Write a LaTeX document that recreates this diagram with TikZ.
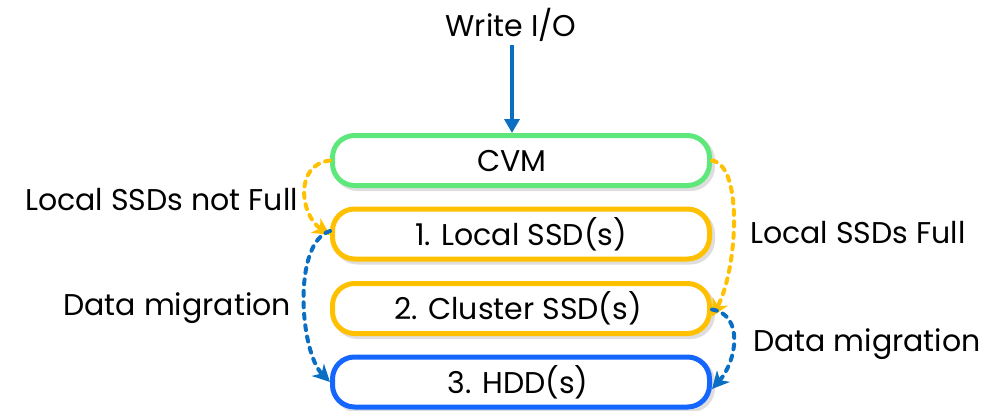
\documentclass[tikz,border=0pt]{standalone}
\usepackage{fontspec}
\setmainfont{Poppins}
\usetikzlibrary{arrows.meta}
\definecolor{cvmgreen}{HTML}{5EE87C}
\definecolor{ssdorange}{HTML}{FFC000}
\definecolor{hddblue}{HTML}{1566FF}
\definecolor{arrblue}{HTML}{0A6FC2}
\tikzset{
  tier/.style={draw=#1, fill=white, line width=5pt, rounded corners=22pt,
    minimum width=377pt, minimum height=50pt, inner sep=0pt,
    font=\fontsize{30}{34}\selectfont,
    preaction={draw=black!13, line width=5pt, transform canvas={shift={(3pt,-3pt)}}}},
  lbl/.style={font=\fontsize{30}{34}\selectfont, inner sep=0pt},
  flow/.style={draw=#1, line width=4pt, dash pattern=on 5pt off 6.5pt, line cap=round,
    -{Stealth[length=17pt,width=17pt,inset=5pt,line cap=butt,fill=#1]}}
}
\begin{document}
\begin{tikzpicture}[x=1pt,y=-1pt]
\useasboundingbox (0,0) rectangle (983,410);
\node[lbl] (write) at (511,25) {Write I/O};
\node[tier=cvmgreen] (cvm) at (521,160.5) {\hspace*{-18pt}CVM};
\node[tier=ssdorange] (local) at (521,234) {1. Local SSD(s)};
\node[tier=ssdorange] (cluster) at (521,308.5) {\hspace*{-6pt}2. Cluster SSD(s)};
\node[tier=hddblue] (hdd) at (521,382) {\hspace*{-6pt}3. HDD(s)};

\node[lbl, anchor=east] (lnf) at (298,200) {Local SSDs not Full};
\node[lbl, anchor=west] (lf) at (750,233) {Local SSDs Full};
\node[lbl, anchor=east] (dml) at (291,308) {Data migration};
\node[lbl, anchor=west] (dmr) at (753,344) {Data migration};

\coordinate (ws) at (512,45);
\draw[arrblue, line width=3.5pt, -{Triangle[length=14pt,width=15pt]}]
  (ws) -- (ws |- cvm.north);

\draw[flow=ssdorange] (cvm.west) .. controls +(-36,4) and +(-30,-20) .. ([yshift=-1pt]local.west);
\draw[flow=arrblue] ([yshift=3pt]local.west) .. controls +(-38,12) and +(-30,-30) .. (hdd.west);
\draw[flow=ssdorange] (cvm.east) .. controls +(32,5) and +(25,-45) .. ([yshift=-8pt]cluster.east);
\draw[flow=arrblue] ([yshift=-1pt]cluster.east) .. controls +(32,5) and +(25,-28) .. ([yshift=-7pt]hdd.east);
\end{tikzpicture}
\end{document}
